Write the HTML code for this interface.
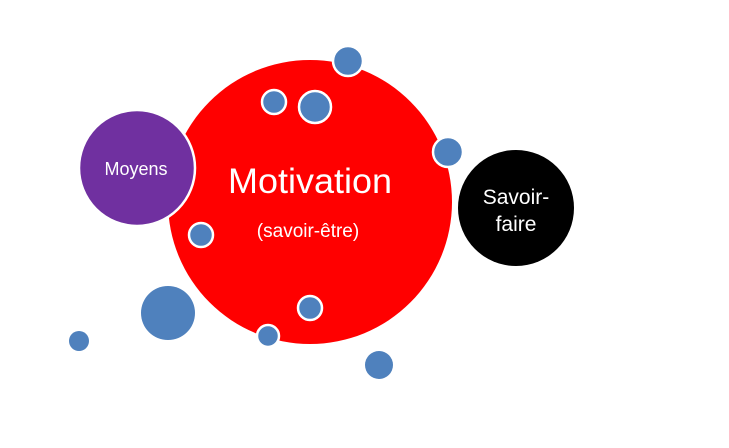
<!DOCTYPE html>
<html><head><style>body{margin:0;background:#fff}</style></head><body>
<svg width="729" height="448" xmlns="http://www.w3.org/2000/svg" style="display:block">
<circle cx="310" cy="202" r="142" fill="#ff0000"/>
<circle cx="137" cy="168" r="58" fill="#7030a0" stroke="#fff" stroke-width="2.5"/>
<circle cx="516" cy="208" r="58" fill="#000"/>
<g fill="#4f81bd" stroke="#fff" stroke-width="2.5">
<circle cx="348" cy="61" r="15"/>
<circle cx="274" cy="102" r="12"/>
<circle cx="315" cy="107" r="16"/>
<circle cx="448" cy="152" r="15"/>
<circle cx="201" cy="235" r="12"/>
<circle cx="310" cy="308" r="12"/>
<circle cx="268" cy="336" r="11"/>
</g>
<g fill="#4f81bd">
<circle cx="168" cy="313" r="27"/>
<circle cx="379" cy="365" r="14"/>
<circle cx="79" cy="341" r="10"/>
</g>
<g font-family="Liberation Sans, sans-serif" fill="#fff" text-anchor="middle">
<text x="136" y="175" font-size="18">Moyens</text>
<text x="310" y="193" font-size="35" textLength="164" lengthAdjust="spacingAndGlyphs">Motivation</text>
<text x="308" y="237" font-size="19">(savoir-être)</text>
<text x="516" y="204" font-size="21">Savoir-</text>
<text x="516" y="231" font-size="21">faire</text>
</g>
</svg>
</body></html>
